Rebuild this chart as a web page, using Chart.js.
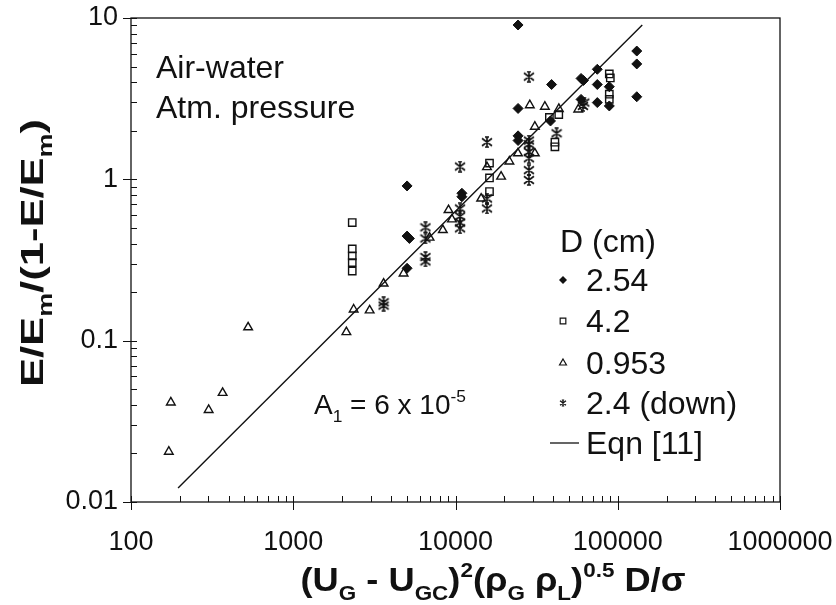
<!DOCTYPE html>
<html>
<head>
<meta charset="utf-8">
<script src="https://cdn.jsdelivr.net/npm/chart.js@4/dist/chart.umd.min.js"></script>
<style>
  body { margin: 0; background: #fff; }
  canvas { display: block; }
</style>
</head>
<body>
<canvas id="myChart" width="836" height="605"></canvas>
<script>
// D = 2.54 cm (filled diamonds)
const x254 = [24300, 131000, 131000, 131000, 74800, 74800, 74800, 88700, 88700, 59400, 61500, 59400, 39100, 38500, 24300, 24300, 24300, 10950, 10950, 5030, 5030, 5200, 5030];
const y254 = [9.05, 6.24, 5.19, 3.25, 4.81, 3.87, 2.99, 3.75, 2.85, 4.22, 4.1, 3.13, 3.87, 2.3, 2.75, 1.86, 1.74, 0.82, 0.78, 0.91, 0.445, 0.43, 0.281];
// D = 4.2 cm (open squares)
const x42 = [88700, 90000, 88700, 88700, 43300, 37900, 41000, 41000, 16200, 16200, 16200, 2310, 2310, 2310, 2310, 2310];
const y42 = [4.5, 4.25, 3.37, 3.13, 2.52, 2.42, 1.70, 1.59, 1.26, 1.02, 0.84, 0.54, 0.37, 0.335, 0.305, 0.27];
// D = 0.953 cm (open triangles)
const x0953 = [171, 176, 301, 367, 527, 2125, 2357, 2957, 3605, 4786, 6918, 8356, 9057, 9510, 14390, 15630, 19100, 21480, 24260, 28700, 30830, 30830, 35540, 43340, 57100];
const y0953 = [0.0205, 0.0414, 0.0372, 0.0475, 0.121, 0.113, 0.156, 0.154, 0.226, 0.261, 0.435, 0.485, 0.645, 0.565, 0.76, 1.19, 1.04, 1.29, 1.45, 2.88, 2.12, 1.45, 2.82, 2.73, 2.71];
// D = 2.4 cm, downflow (asterisks)
const x24 = [28330, 62200, 61000, 42000, 15630, 10660, 28330, 28330, 28330, 28330, 28330, 28330, 15630, 15630, 10660, 10660, 10660, 10660, 6530, 6530, 6530, 6530, 3605, 3605];
const y24 = [4.33, 2.99, 2.85, 1.93, 1.70, 1.20, 1.74, 1.65, 1.48, 1.35, 1.14, 0.99, 0.76, 0.66, 0.66, 0.59, 0.54, 0.497, 0.504, 0.43, 0.33, 0.31, 0.173, 0.165];
// Eqn [11]
const eqnX = [195, 141600];
const eqnY = [0.0122, 9.05];

const xTicks = [100, 1000, 10000, 100000, 1000000];
const yTicks = [0.01, 0.1, 1, 10];
const legendTitle = "D (cm)";
const legendLabels = ["2.54", "4.2", "0.953", "2.4 (down)", "Eqn [11]"];

const FONT = "'Liberation Sans', Arial, sans-serif";
const INK = "#111";

function pairs(xs, ys) {
    return xs.map((x, i) => ({ x: x, y: ys[i] }));
}

// asterisk marker: x with a vertical bar
function makeStar(size, lw) {
    const c = document.createElement("canvas");
    c.width = size;
    c.height = size;
    const g = c.getContext("2d");
    const m = size / 2;
    const r = size / 2 - 1;
    g.strokeStyle = INK;
    g.lineWidth = lw;
    g.beginPath();
    g.moveTo(m - r, m - r * 0.75); g.lineTo(m + r, m + r * 0.75);
    g.moveTo(m + r, m - r * 0.75); g.lineTo(m - r, m + r * 0.75);
    g.moveTo(m, m - r); g.lineTo(m, m + r);
    g.moveTo(m - r * 0.4, m - r); g.lineTo(m + r * 0.4, m - r);
    g.moveTo(m - r * 0.4, m + r); g.lineTo(m + r * 0.4, m + r);
    g.stroke();
    return c;
}
const starBig = makeStar(12, 1.6);
const starSmall = makeStar(8, 1.2);

// text with sub/superscripts
function richWidth(ctx, parts, size, bold) {
    const w = bold ? "bold " : "";
    let total = 0;
    parts.forEach((p) => {
        const s = p.sub || p.sup ? size * 0.62 : size;
        ctx.font = w + s + "px " + FONT;
        p.w = ctx.measureText(p.t).width;
        total += p.w;
    });
    return total;
}

function drawRich(ctx, parts, x, y, size, bold, align) {
    const w = bold ? "bold " : "";
    const total = richWidth(ctx, parts, size, bold);
    let cx = align === "center" ? x - total / 2 : x;
    ctx.textBaseline = "alphabetic";
    ctx.textAlign = "left";
    parts.forEach((p) => {
        const s = p.sub || p.sup ? size * 0.62 : size;
        ctx.font = w + s + "px " + FONT;
        let dy = 0;
        if (p.sub) dy = size * 0.28;
        if (p.sup) dy = -size * 0.42;
        ctx.fillText(p.t, cx, y + dy);
        cx += p.w;
    });
}

// draw rich text centred at (cx, y), stretched to a given length
function drawFitted(ctx, parts, cx, y, size, bold, length) {
    const tw = richWidth(ctx, parts, size, bold);
    ctx.save();
    ctx.translate(cx, y);
    ctx.scale(length / tw, 1);
    drawRich(ctx, parts, 0, 0, size, bold, "center");
    ctx.restore();
}

const framePlugin = {
    id: "frame",
    afterDraw(chart) {
        const { ctx, chartArea: a } = chart;
        const xs = chart.scales.x;
        const ys = chart.scales.y;
        ctx.save();
        ctx.strokeStyle = INK;
        ctx.lineWidth = 1.3;
        ctx.strokeRect(a.left, a.top, a.right - a.left, a.bottom - a.top);

        ctx.lineWidth = 1;
        ctx.beginPath();
        for (let d = 2; d <= 6; d++) {
            for (let m = 1; m <= 9; m++) {
                const v = m * Math.pow(10, d);
                if (v > 1000000) break;
                const px = Math.round(xs.getPixelForValue(v)) + 0.5;
                ctx.moveTo(px, a.bottom - 6);
                ctx.lineTo(px, m === 1 ? a.bottom + 8 : a.bottom);
            }
        }
        for (let d = -2; d <= 1; d++) {
            for (let m = 1; m <= 9; m++) {
                const v = m * Math.pow(10, d);
                if (v > 10.0001) break;
                const py = Math.round(ys.getPixelForValue(v)) + 0.5;
                ctx.moveTo(a.left + 6, py);
                ctx.lineTo(m === 1 ? a.left - 8 : a.left, py);
            }
        }
        ctx.stroke();

        ctx.fillStyle = INK;
        // axis titles
        drawFitted(ctx, [
            { t: "(U" }, { t: "G", sub: true }, { t: " - U" }, { t: "GC", sub: true },
            { t: ")" }, { t: "2", sup: true }, { t: "(\u03C1" }, { t: "G", sub: true },
            { t: " \u03C1" }, { t: "L", sub: true }, { t: ")" }, { t: "0.5", sup: true },
            { t: " D/\u03C3" }
        ], 493, 591, 33, true, 385);

        ctx.save();
        ctx.translate(43, 253);
        ctx.rotate(-Math.PI / 2);
        drawFitted(ctx, [
            { t: "E/E" }, { t: "m", sub: true }, { t: "/(1-E/E" }, { t: "m", sub: true }, { t: ")" }
        ], 0, 0, 32, true, 268);
        ctx.restore();

        // annotations
        drawRich(ctx, [{ t: "Air-water" }], 156, 78, 32, false, "left");
        drawRich(ctx, [{ t: "Atm. pressure" }], 156, 118, 32, false, "left");
        drawRich(ctx, [{ t: "A" }, { t: "1", sub: true }, { t: " = 6 x 10" }, { t: "-5", sup: true }],
            314, 414, 28, false, "left");

        // legend
        const lx = 563;
        drawRich(ctx, [{ t: legendTitle }], 560, 252, 32, false, "left");
        const rows = [280, 321, 363, 403, 443];
        chart.data.datasets.forEach((ds, i) => {
            const yy = rows[i];
            ctx.strokeStyle = INK;
            if (ds.showLine) {
                ctx.lineWidth = 1.3;
                ctx.beginPath();
                ctx.moveTo(550, yy);
                ctx.lineTo(579, yy);
                ctx.stroke();
            } else if (ds.pointStyle === "rectRot") {
                ctx.fillStyle = INK;
                ctx.beginPath();
                ctx.moveTo(lx, yy - 4); ctx.lineTo(lx + 4, yy); ctx.lineTo(lx, yy + 4); ctx.lineTo(lx - 4, yy);
                ctx.closePath();
                ctx.fill();
            } else {
                ctx.fillStyle = "#fff";
                ctx.lineWidth = 1.2;
                Chart.helpers.drawPoint(ctx, {
                    pointStyle: ds.pointStyle === starBig ? starSmall : ds.pointStyle,
                    radius: 4,
                    borderWidth: 1.2,
                    rotation: 0
                }, lx, yy);
            }
            ctx.fillStyle = INK;
            drawRich(ctx, [{ t: legendLabels[i] }], 586, yy + 11, 32, false, "left");
        });
        ctx.restore();
    }
};

const ctx = document.getElementById("myChart").getContext("2d");
const chart = new Chart(ctx, {
    type: "scatter",
    data: {
        datasets: [
            {
                label: "2.54",
                data: pairs(x254, y254),
                pointStyle: "rectRot",
                pointRadius: 5,
                backgroundColor: INK,
                borderColor: INK,
                borderWidth: 1,
            },
            {
                label: "4.2",
                data: pairs(x42, y42),
                pointStyle: "rect",
                pointRadius: 5.2,
                backgroundColor: "rgba(255,255,255,0)",
                borderColor: INK,
                borderWidth: 1.4,
            },
            {
                label: "0.953",
                data: pairs(x0953, y0953),
                pointStyle: "triangle",
                pointRadius: 5,
                backgroundColor: "rgba(255,255,255,0)",
                borderColor: INK,
                borderWidth: 1.4,
            },
            {
                label: "2.4 (down)",
                data: pairs(x24, y24),
                pointStyle: starBig,
                pointRadius: 6,
                borderColor: INK,
            },
            {
                label: "Eqn [11]",
                type: "line",
                data: pairs(eqnX, eqnY),
                showLine: true,
                borderColor: INK,
                borderWidth: 1.4,
                pointRadius: 0,
                fill: false,
            },
        ],
    },
    options: {
        responsive: false,
        animation: false,
        devicePixelRatio: 1,
        layout: { padding: { left: 0, right: 56, top: 18, bottom: 0 } },
        plugins: {
            legend: { display: false },
            tooltip: { enabled: false },
        },
        scales: {
            x: {
                type: "logarithmic",
                min: 100,
                max: 1000000,
                grid: { display: false, drawTicks: false },
                border: { display: false },
                afterBuildTicks: (scale) => {
                    scale.ticks = xTicks.map((v) => ({ value: v }));
                },
                afterFit: (scale) => {
                    scale.height = 103;
                    scale.paddingLeft = 0;
                    scale.paddingRight = 0;
                },
                ticks: {
                    autoSkip: false,
                    maxRotation: 0,
                    padding: 24,
                    color: INK,
                    font: { family: FONT, size: 27 },
                    callback: (value) => String(value),
                },
            },
            y: {
                type: "logarithmic",
                min: 0.01,
                max: 10,
                grid: { display: false, drawTicks: false },
                border: { display: false },
                afterBuildTicks: (scale) => {
                    scale.ticks = yTicks.map((v) => ({ value: v }));
                },
                afterFit: (scale) => {
                    scale.width = 131;
                    scale.paddingTop = 0;
                    scale.paddingBottom = 0;
                },
                ticks: {
                    autoSkip: false,
                    padding: 13,
                    color: INK,
                    font: { family: FONT, size: 27 },
                    callback: (value) => String(value),
                },
            },
        },
    },
    plugins: [framePlugin],
});
</script>
</body>
</html>
